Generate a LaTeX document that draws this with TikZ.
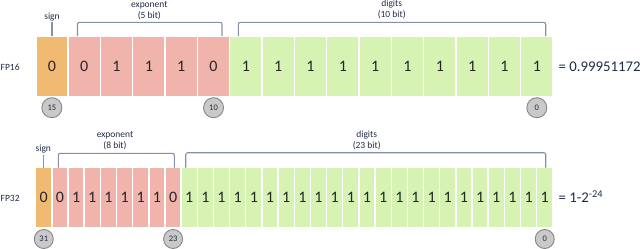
\documentclass[tikz,border=0pt]{standalone}
\usepackage{fontspec}
\setmainfont{Carlito}
\definecolor{signc}{HTML}{F0BA73}
\definecolor{expc}{HTML}{F1B4AC}
\definecolor{digc}{HTML}{D7F3B4}
\definecolor{navy}{HTML}{1F2B47}
\definecolor{brkc}{HTML}{8591A6}
\definecolor{circf}{HTML}{C9C9C9}
\definecolor{circd}{HTML}{858585}
\begin{document}
\begin{tikzpicture}[x=1pt,y=-1pt,
  cellA/.style={draw=white,line width=1.6pt,minimum width=32.33pt,minimum height=61pt,inner sep=0pt,font=\fontsize{16}{16}\selectfont,text=black!85},
  cellB/.style={draw=white,line width=1.4pt,minimum width=16.16pt,minimum height=60pt,inner sep=0pt,font=\fontsize{16}{16}\selectfont,text=black!85},
  bitnum/.style={circle,fill=circf,draw=circd,line width=0.9pt,minimum size=#1,inner sep=0pt,font=\fontsize{8.5}{8.5}\selectfont,text=navy},
  lbl/.style={font=\fontsize{9.5}{11}\selectfont,text=navy,align=center,inner sep=0pt},
  brk/.style={draw=brkc,line width=1.1pt,rounded corners=2pt},
  res/.style={anchor=west,inner sep=0pt,font=\fontsize{14.8}{14.8}\selectfont,text=navy}]
\useasboundingbox (0,0) rectangle (640,249);
% ---------- FP16 ----------
\node[lbl,anchor=west] (fp16) at (0.5,67.7) {FP16};
\node[cellA,fill=signc] (a0) at ({35.7+0.5*32.33},66.5) {0};
\foreach \b [count=\i] in {0,1,1,1,0}
  \node[cellA,fill=expc] (a\i) at ({35.7+(\i+0.5)*32.33},66.5) {\b};
\foreach \i in {6,...,15}
  \node[cellA,fill=digc] (a\i) at ({35.7+(\i+0.5)*32.33},66.5) {1};
\coordinate (r1) at (0,107.7);
\node[bitnum=20pt] (n15) at (a0 |- r1) {15};
\node[bitnum=20pt] (n10) at (a5 |- r1) {10};
\node[bitnum=20pt] (n0a) at (a15 |- r1) {0};
\node[res] (valA) at (558.5,67) {= 0.99951172};
% labels and brackets
\node[lbl] (signA) at (52,16.7) {sign};
\coordinate (sAb) at (52,22);
\coordinate (sAt) at (52,36);
\draw[brk] (sAb) -- (sAt);
\node[lbl] (expA) at (149.3,10.2) {exponent\\(5 bit)};
\coordinate (eAl) at (77.5,36);
\coordinate (eAr) at (222,36);
\draw[brk] (eAl) -- ++(0,-13.7) -| (eAr);
\node[lbl] (digA) at (391.7,9.6) {digits\\(10 bit)};
\coordinate (dAl) at (238.3,36);
\coordinate (dAr) at (545.7,36);
\draw[brk] (dAl) -- ++(0,-13.7) -| (dAr);
% ---------- FP32 ----------
\node[lbl,anchor=west] (fp32) at (0.5,198.5) {FP32};
\node[cellB,fill=signc] (b0) at ({35.7+0.5*16.16},197.7) {0};
\foreach \b [count=\i] in {0,1,1,1,1,1,1,0}
  \node[cellB,fill=expc] (b\i) at ({35.7+(\i+0.5)*16.16},197.7) {\b};
\foreach \i in {9,...,31}
  \node[cellB,fill=digc] (b\i) at ({35.7+(\i+0.5)*16.16},197.7) {1};
\coordinate (r2) at (0,239);
\node[bitnum=19pt] (n31) at (b0 |- r2) {31};
\node[bitnum=19pt] (n23) at (b8 |- r2) {23};
\node[bitnum=19pt] (n0b) at (b31 |- r2) {0};
\node[res] (valB) at (558.5,197) {= 1-2\textsuperscript{-24}};
\node[lbl] (signB) at (43.3,149) {sign};
\coordinate (sBb) at (43.6,154.5);
\coordinate (sBt) at (43.6,167.7);
\draw[brk] (sBb) -- (sBt);
\node[lbl] (expB) at (115,141) {exponent\\(8 bit)};
\coordinate (eBl) at (58.3,167.7);
\coordinate (eBr) at (174.3,167.7);
\draw[brk] (eBl) -- ++(0,-14.4) -| (eBr);
\node[lbl] (digB) at (366.7,140.5) {digits\\(23 bit)};
\coordinate (dBl) at (185.7,167.7);
\coordinate (dBr) at (545.7,167.7);
\draw[brk] (dBl) -- ++(0,-15) -| (dBr);
\end{tikzpicture}
\end{document}
